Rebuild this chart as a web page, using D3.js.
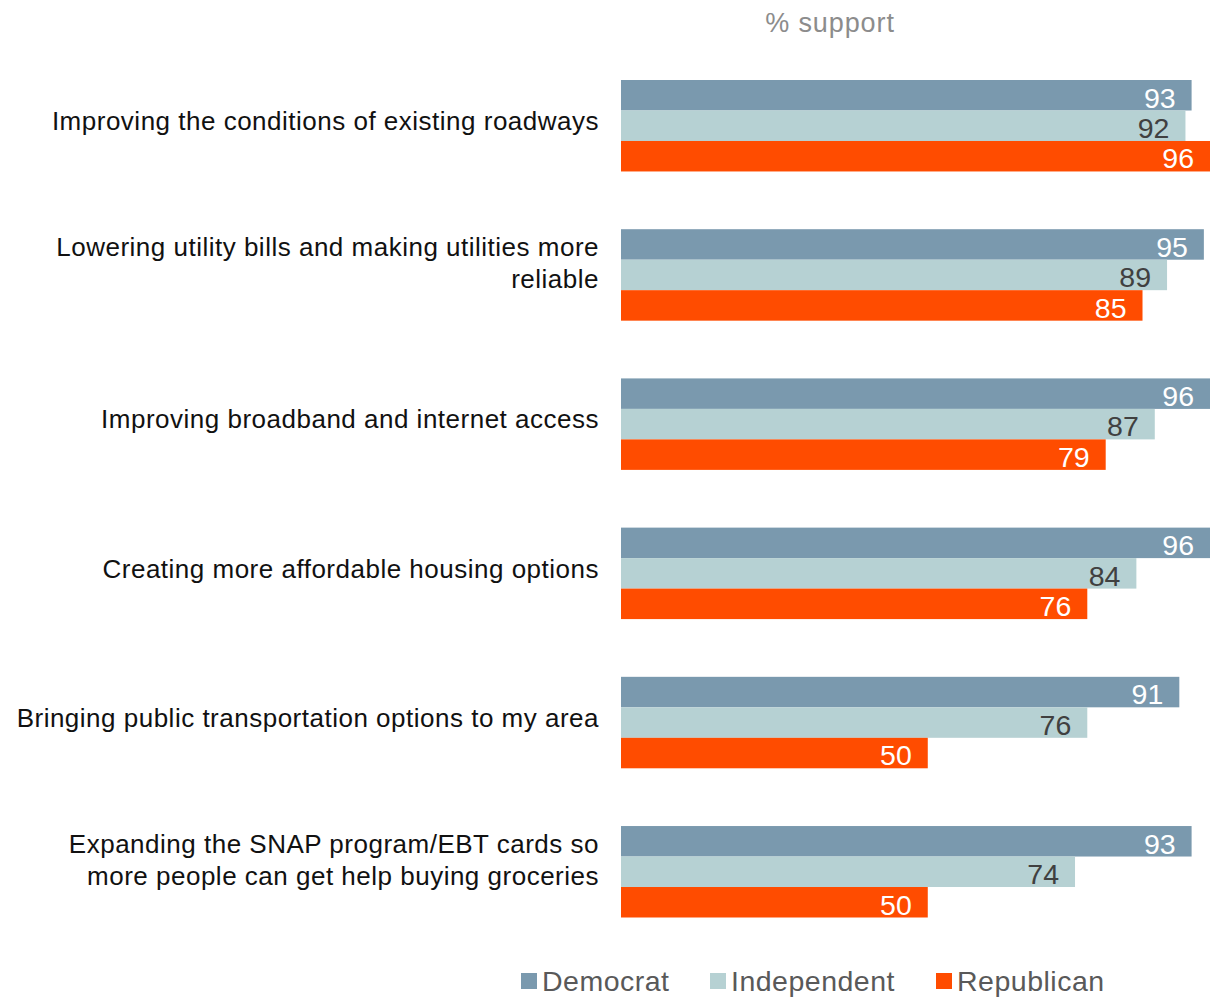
<!DOCTYPE html>
<html><head><meta charset="utf-8">
<script src="https://cdn.jsdelivr.net/npm/d3@7"></script>
<style>body{margin:0;background:#fff}svg{display:block}</style>
</head><body>
<svg id="c" width="1225" height="997"></svg>
<script>
const categories = [
  ["Improving the conditions of existing roadways"],
  ["Lowering utility bills and making utilities more", "reliable"],
  ["Improving broadband and internet access"],
  ["Creating more affordable housing options"],
  ["Bringing public transportation options to my area"],
  ["Expanding the SNAP program/EBT cards so", "more people can get help buying groceries"]
];
const seriesNames = ["Democrat", "Independent", "Republican"];
const democrat    = [93, 95, 96, 96, 91, 93];
const independent = [92, 89, 87, 84, 76, 74];
const republican  = [96, 85, 79, 76, 50, 50];
const title = "% support";

const colors = ["#7A99AE", "#B6D1D3", "#FF4C00"];
const labelColors = ["#ffffff", "#404040", "#ffffff"];
const values = [democrat, independent, republican];
const font = "'Liberation Sans', Arial, Helvetica, sans-serif";

const svg = d3.select("#c");
const idx = d3.range(categories.length);

const x = d3.scaleLinear().domain([0, 96]).range([621, 1210]);
const y0 = d3.scaleBand().domain(idx).range([80, 917.5]).paddingInner(0.387).paddingOuter(0);
const y1 = d3.scaleBand().domain(seriesNames).range([0, y0.bandwidth()]);

svg.append("text").attr("x", 830).attr("y", 32).attr("text-anchor", "middle")
  .attr("font-family", font).attr("font-size", 27).attr("letter-spacing", 0.9)
  .attr("fill", "#8c8c8c").text(title);

const g = svg.selectAll("g.grp").data(idx).join("g").attr("class", "grp")
  .attr("transform", i => `translate(0,${y0(i)})`);

seriesNames.forEach((s, si) => {
  g.append("rect")
    .attr("x", x(0)).attr("y", y1(s))
    .attr("width", i => x(values[si][i]) - x(0))
    .attr("height", y1.bandwidth())
    .attr("fill", colors[si]);
  g.append("text")
    .attr("x", i => x(values[si][i]) - 16)
    .attr("y", y1(s) + y1.bandwidth() / 2 + 2)
    .attr("dy", "0.36em")
    .attr("text-anchor", "end")
    .attr("font-family", font).attr("font-size", 28.5)
    .attr("fill", labelColors[si])
    .text(i => values[si][i]);
});

// category labels
g.each(function(i) {
  const lines = categories[i];
  const c = y0.bandwidth() / 2 + (lines.length > 1 ? -12 : -5);
  const lh = 32;
  const t = d3.select(this).append("text")
    .attr("text-anchor", "end").attr("font-family", font).attr("font-size", 26)
    .attr("letter-spacing", 0.5).attr("fill", "#111");
  lines.forEach((ln, k) => {
    t.append("tspan").attr("x", 599)
      .attr("y", c + (k - (lines.length - 1) / 2) * lh)
      .attr("dy", "0.36em").text(ln);
  });
});

// legend
const legX = [521, 710, 936];
const leg = svg.selectAll("g.leg").data(seriesNames).join("g").attr("class", "leg")
  .attr("transform", (d, i) => `translate(${legX[i]},973)`);
leg.append("rect").attr("width", 16).attr("height", 16).attr("fill", (d, i) => colors[i]);
leg.append("text").attr("x", 21).attr("y", 8).attr("dy", "0.36em")
  .attr("font-family", font).attr("font-size", 28.5).attr("letter-spacing", 0.5)
  .attr("fill", "#595959").text(d => d);
</script>
</body></html>
